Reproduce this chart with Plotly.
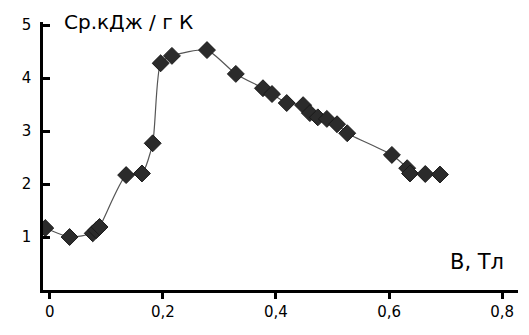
import plotly.graph_objects as go

B = [-0.008, 0.035, 0.076, 0.082, 0.088, 0.135, 0.163, 0.182, 0.196, 0.216, 0.278,
     0.329, 0.377, 0.393, 0.419, 0.448, 0.46, 0.474, 0.49, 0.508, 0.526, 0.605,
     0.632, 0.637, 0.664, 0.69]
Cp = [1.17, 1.0, 1.07, 1.13, 1.19, 2.17, 2.2, 2.77, 4.28, 4.42, 4.53,
      4.08, 3.81, 3.7, 3.53, 3.49, 3.34, 3.26, 3.23, 3.13, 2.96, 2.55,
      2.3, 2.2, 2.19, 2.18]
x_ticks = [0, 0.2, 0.4, 0.6, 0.8]
x_labels = ["0", "0,2", "0,4", "0,6", "0,8"]
y_ticks = [1, 2, 3, 4, 5]

fig = go.Figure()
fig.add_trace(go.Scatter(
    x=B, y=Cp, mode="lines+markers",
    line=dict(color="#555555", width=1.2, shape="spline", smoothing=0.6),
    marker=dict(symbol="diamond", size=13, color="#2b2b2b",
                line=dict(color="#1a1a1a", width=1)),
    showlegend=False))

fig.update_layout(
    width=529, height=335,
    margin=dict(l=43, r=11, t=22, b=45),
    paper_bgcolor="white", plot_bgcolor="white",
    font=dict(family="DejaVu Sans", size=14, color="black"),
    xaxis=dict(range=[-0.012, 0.828], tickvals=x_ticks, ticktext=x_labels,
               showgrid=False, zeroline=False, showline=True,
               linecolor="black", linewidth=2.5,
               ticks="outside", ticklen=6, tickwidth=2.5, tickcolor="black",
               tickfont=dict(size=15)),
    yaxis=dict(range=[0, 5.06], tickvals=y_ticks,
               showgrid=False, zeroline=False, showline=True,
               linecolor="black", linewidth=2.5,
               ticks="inside", ticklen=7, tickwidth=2.5, tickcolor="black",
               ticklabelstandoff=6,
               tickfont=dict(size=15)),
    annotations=[
        dict(text="Ср.кДж / г К", xref="paper", yref="paper",
             x=0.04, y=1.0, xanchor="left", yanchor="middle",
             showarrow=False, font=dict(size=20)),
        dict(text="B, Тл", xref="paper", yref="paper",
             x=0.975, y=0.105, xanchor="right", yanchor="middle",
             showarrow=False, font=dict(size=21)),
    ],
)

fig.write_html("out.html")
